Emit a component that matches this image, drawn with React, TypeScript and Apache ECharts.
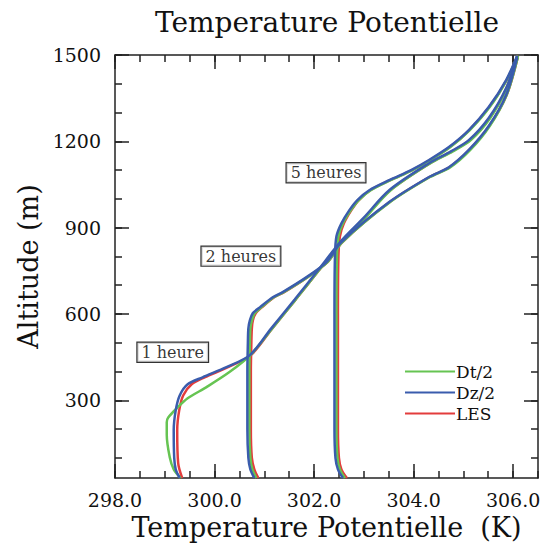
import React, { useEffect, useRef } from 'react';
import * as echarts from 'echarts';

const FONT = 'DejaVu Serif';

const legendNames = ['Dt/2', 'Dz/2', 'LES'];
const lineColors: Record<string, string> = { 'Dt/2': '#66c452', 'Dz/2': '#3a5cad', LES: '#e33c3c' };

// [theta (K), altitude (m)]
const dz1h = [[299.30, 30], [299.22, 60], [299.19, 100], [299.18, 196], [299.22, 265], [299.30, 317], [299.46, 356], [299.76, 380], [300.24, 415], [300.71, 457], [301.14, 550], [301.61, 650], [302.07, 750], [302.55, 855], [303.00, 935], [303.51, 1030], [304.31, 1124], [304.75, 1165], [305.11, 1204], [305.51, 1281], [305.86, 1385], [306.08, 1497]];
const dt1h = [[299.32, 30], [299.18, 60], [299.10, 102], [299.04, 180], [299.04, 224], [299.07, 240], [299.24, 272], [299.46, 307], [299.84, 346], [300.30, 398], [300.72, 457], [301.16, 550], [301.63, 650], [302.09, 750], [302.57, 855], [303.03, 935], [303.54, 1030], [304.34, 1124], [304.79, 1165], [305.15, 1204], [305.54, 1281], [305.88, 1385], [306.10, 1497]];
const les1h = [[299.35, 30], [299.27, 81], [299.25, 196], [299.29, 265], [299.37, 317], [299.54, 356], [299.80, 380], [300.27, 415], [300.73, 457], [301.16, 550], [301.63, 650], [302.09, 750], [302.57, 855], [303.02, 935], [303.53, 1030], [304.33, 1124], [304.77, 1165], [305.13, 1204], [305.53, 1281], [305.87, 1385], [306.09, 1497]];

const dz2h = [[300.80, 30], [300.72, 60], [300.68, 100], [300.66, 200], [300.66, 400], [300.67, 500], [300.68, 550], [300.71, 578], [300.77, 603], [300.91, 623], [301.17, 658], [301.37, 676], [301.85, 728], [302.25, 780], [302.55, 850], [303.51, 989], [304.31, 1076], [304.71, 1110], [305.11, 1170], [305.51, 1253], [305.86, 1361], [306.08, 1490]];
const dt2h = [[300.84, 30], [300.76, 60], [300.72, 100], [300.70, 200], [300.70, 400], [300.71, 500], [300.72, 550], [300.75, 578], [300.81, 603], [300.94, 623], [301.19, 658], [301.39, 676], [301.87, 728], [302.27, 780], [302.57, 850], [303.53, 989], [304.33, 1076], [304.74, 1110], [305.14, 1170], [305.53, 1253], [305.87, 1361], [306.09, 1490]];
const les2h = [[300.88, 30], [300.80, 60], [300.75, 100], [300.73, 200], [300.73, 400], [300.74, 500], [300.75, 550], [300.77, 578], [300.83, 603], [300.95, 623], [301.20, 658], [301.40, 676], [301.87, 728], [302.27, 780], [302.57, 850], [303.52, 989], [304.32, 1076], [304.72, 1110], [305.12, 1170], [305.52, 1253], [305.87, 1361], [306.09, 1490]];

const dz5h = [[302.58, 30], [302.48, 60], [302.43, 100], [302.41, 200], [302.41, 400], [302.41, 600], [302.42, 800], [302.45, 870], [302.55, 915], [302.71, 961], [302.87, 996], [303.11, 1030], [303.51, 1065], [303.95, 1100], [304.31, 1135], [304.71, 1180], [305.11, 1239], [305.51, 1319], [305.86, 1413], [306.08, 1497]];
const dt5h = [[302.62, 30], [302.52, 60], [302.47, 100], [302.45, 200], [302.45, 400], [302.45, 600], [302.46, 800], [302.49, 870], [302.58, 915], [302.74, 961], [302.90, 996], [303.14, 1030], [303.54, 1065], [303.98, 1100], [304.34, 1135], [304.74, 1180], [305.13, 1239], [305.53, 1319], [305.87, 1413], [306.09, 1497]];
const les5h = [[302.66, 30], [302.55, 60], [302.50, 100], [302.48, 200], [302.48, 400], [302.48, 600], [302.49, 800], [302.52, 870], [302.60, 915], [302.75, 961], [302.90, 996], [303.13, 1030], [303.53, 1065], [303.97, 1100], [304.33, 1135], [304.73, 1180], [305.12, 1239], [305.52, 1319], [305.87, 1413], [306.09, 1497]];

const annotations = [
  { text: '1 heure', theta: 299.16, z: 467 },
  { text: '2 heures', theta: 300.53, z: 801 },
  { text: '5 heures', theta: 302.24, z: 1091 },
];

const xMajorTicks = [298, 300, 302, 304, 306];
const xMinorTicks = [298, 298.5, 299, 299.5, 300, 300.5, 301, 301.5, 302, 302.5, 303, 303.5, 304, 304.5, 305, 305.5, 306, 306.5];
const yMajorTicks = [300, 600, 900, 1200, 1500];
const yMinorTicks = [100, 200, 300, 400, 500, 600, 700, 800, 900, 1000, 1100, 1200, 1300, 1400, 1500];

const X_MIN = 298;
const X_MAX = 306.5;
const Y_MIN = 30;
const Y_MAX = 1500;

const profiles: { name: string; data: number[][] }[] = [
  { name: 'LES', data: les1h },
  { name: 'LES', data: les2h },
  { name: 'LES', data: les5h },
  { name: 'Dt/2', data: dt1h },
  { name: 'Dt/2', data: dt2h },
  { name: 'Dt/2', data: dt5h },
  { name: 'Dz/2', data: dz1h },
  { name: 'Dz/2', data: dz2h },
  { name: 'Dz/2', data: dz5h },
];

export default function App() {
  const ref = useRef<HTMLDivElement>(null);
  useEffect(() => {
    if (!ref.current) return;
    const chart = echarts.init(ref.current, undefined, { renderer: 'svg' });
    const lineStyle = { color: '#222', width: 1.5 };
    const xBase = { type: 'value', min: X_MIN, max: X_MAX, splitLine: { show: false } };
    const yBase = { type: 'value', min: Y_MIN, max: Y_MAX, splitLine: { show: false } };
    const tickOnly = (ticks: number[], len: number, showLine: boolean) => ({
      axisLine: { show: showLine, onZero: false, lineStyle },
      axisTick: { show: true, inside: true, length: len, lineStyle, customValues: ticks },
      axisLabel: { show: false },
    });
    chart.setOption({
      animation: false,
      backgroundColor: '#fff',
      title: {
        text: 'Temperature Potentielle',
        left: 150,
        top: 3,
        textStyle: { fontFamily: FONT, fontSize: 28, fontWeight: 'normal', color: '#111' },
      },
      legend: {
        data: legendNames,
        orient: 'vertical',
        left: 405,
        top: 363,
        icon: 'rect',
        itemWidth: 50,
        itemHeight: 2,
        itemGap: 4,
        padding: 0,
        textStyle: { fontFamily: FONT, fontSize: 17, color: '#111', padding: [0, 0, 0, -4] },
      },
      grid: { left: 115, right: 6, top: 55, bottom: 71, outerBoundsMode: 'none', containLabel: false },
      xAxis: [
        {
          ...xBase,
          position: 'bottom',
          name: 'Temperature Potentielle\u00a0\u00a0(K)',
          nameLocation: 'middle',
          nameGap: 34,
          nameTextStyle: { fontFamily: FONT, fontSize: 27, color: '#111' },
          axisLine: { show: true, onZero: false, lineStyle },
          axisTick: { show: true, inside: true, length: 14, lineStyle, customValues: xMajorTicks },
          axisLabel: {
            margin: 12,
            fontFamily: FONT,
            fontSize: 19,
            color: '#111',
            customValues: xMajorTicks,
            formatter: (v: number) => v.toFixed(1),
          },
        },
        { ...xBase, position: 'bottom', ...tickOnly(xMinorTicks, 7, false) },
        { ...xBase, position: 'top', ...tickOnly(xMajorTicks, 14, true) },
        { ...xBase, position: 'top', ...tickOnly(xMinorTicks, 7, false) },
      ],
      yAxis: [
        {
          ...yBase,
          position: 'left',
          name: 'Altitude (m)',
          nameLocation: 'middle',
          nameGap: 50,
          nameTextStyle: { fontFamily: FONT, fontSize: 27, color: '#111', padding: [0, 0, 20, 0] },
          axisLine: { show: true, onZero: false, lineStyle },
          axisTick: { show: true, inside: true, length: 14, lineStyle, customValues: yMajorTicks },
          axisLabel: {
            margin: 14,
            fontFamily: FONT,
            fontSize: 19,
            color: '#111',
            customValues: yMajorTicks,
            formatter: (v: number) => String(v),
          },
        },
        { ...yBase, position: 'left', ...tickOnly(yMinorTicks, 7, false) },
        { ...yBase, position: 'right', ...tickOnly(yMajorTicks, 14, true) },
        { ...yBase, position: 'right', ...tickOnly(yMinorTicks, 7, false) },
      ],
      series: [
        ...profiles.map((p) => ({
          type: 'line',
          name: p.name,
          data: p.data,
          xAxisIndex: 0,
          yAxisIndex: 0,
          symbol: 'none',
          smooth: 0.3,
          clip: true,
          color: lineColors[p.name],
          lineStyle: { width: 2.5, color: lineColors[p.name] },
        })),
        {
          type: 'scatter',
          name: 'annotations',
          xAxisIndex: 0,
          yAxisIndex: 0,
          symbolSize: 1,
          itemStyle: { color: 'rgba(0,0,0,0)' },
          data: annotations.map((a) => [a.theta, a.z, a.text]),
          label: {
            show: true,
            position: 'inside',
            formatter: (p: any) => p.data[2],
            fontFamily: FONT,
            fontSize: 16,
            color: '#000',
            backgroundColor: '#fff',
            borderColor: '#000',
            borderWidth: 1.2,
            padding: [2, 4, 1, 4],
          },
          z: 5,
        },
      ],
    });
    return () => chart.dispose();
  }, []);
  return <div ref={ref} style={{ width: 544, height: 549, position: 'absolute', left: 0, top: 0 }} />;
}
